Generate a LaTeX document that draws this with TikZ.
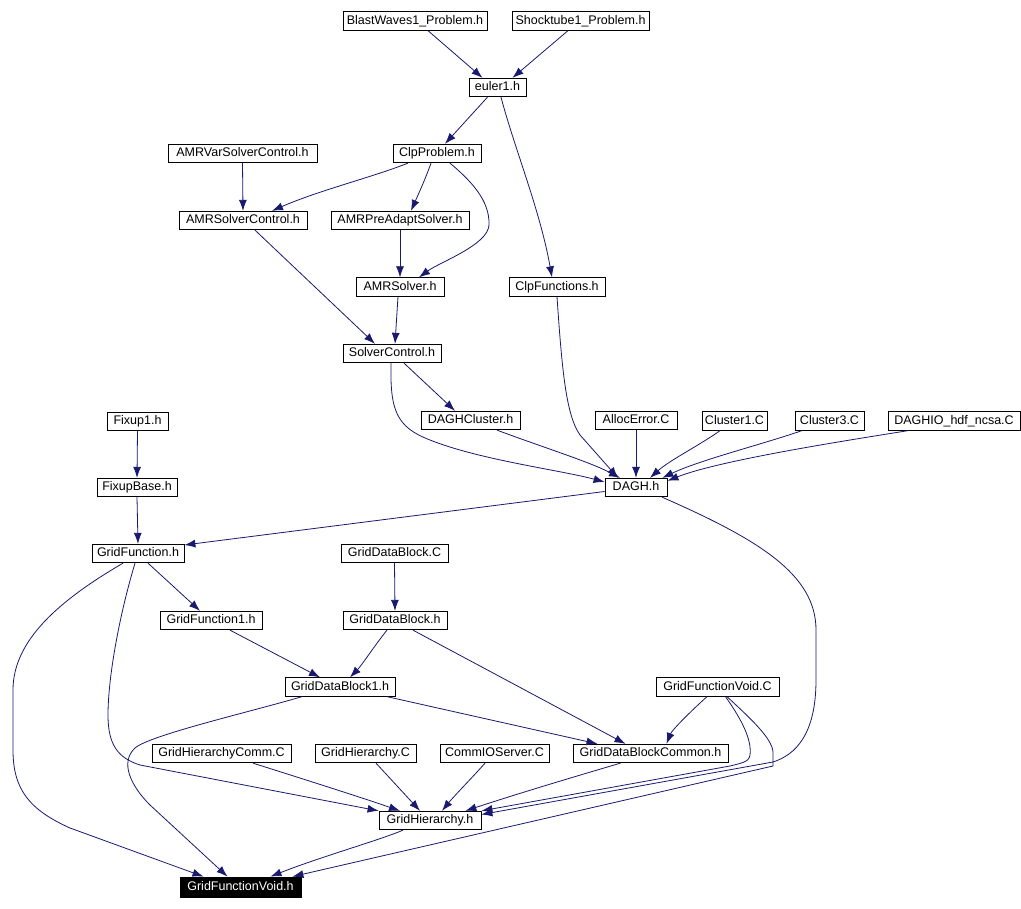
\documentclass[tikz,border=0pt]{standalone}
\usepackage{fontspec}
\setmainfont{Liberation Sans}
\usetikzlibrary{arrows.meta}
\definecolor{edgeblue}{RGB}{25,25,112}
\begin{document}
\begin{tikzpicture}[x=1pt,y=-1pt,
  box/.style={draw=black, line width=0.8pt, fill=white, inner sep=0pt,
    minimum height=18.5pt, text height=9pt, text depth=2.5pt,
    font=\fontsize{12.5}{14}\selectfont, anchor=center},
  hibox/.style={box, fill=black, text=white},
  edge/.style={draw=edgeblue, line width=0.8pt, -{Latex[length=11pt,width=8pt]}}]
\useasboundingbox[fill=white] (0,0) rectangle (1021,909);

% nodes
\node[box, minimum width=144] (blast) at (415,21) {BlastWaves1\_Problem.h};
\node[box, minimum width=137] (shock) at (580.5,21) {Shocktube1\_Problem.h};
\node[box, minimum width=57] (euler) at (497.5,87.5) {euler1.h};
\node[box, minimum width=149] (amrvar) at (242.5,153.5) {AMRVarSolverControl.h};
\node[box, minimum width=88] (clpprob) at (437,153.5) {ClpProblem.h};
\node[box, minimum width=128] (amrsc) at (243,220.5) {AMRSolverControl.h};
\node[box, minimum width=138] (amrpre) at (400,220.5) {AMRPreAdaptSolver.h};
\node[box, minimum width=88] (amrsolver) at (400,287) {AMRSolver.h};
\node[box, minimum width=96] (clpfun) at (557,287) {ClpFunctions.h};
\node[box, minimum width=98] (solver) at (392,353.5) {SolverControl.h};
\node[box, minimum width=99] (daghcl) at (470.5,420.5) {DAGHCluster.h};
\node[box, minimum width=82] (alloc) at (636,420.5) {AllocError.C};
\node[box, minimum width=65] (cl1) at (734.5,421) {Cluster1.C};
\node[box, minimum width=69] (cl3) at (829.5,421) {Cluster3.C};
\node[box, minimum width=132] (daghio) at (954,421) {DAGHIO\_hdf\_ncsa.C};
\node[box, minimum width=62] (dagh) at (636,487.5) {DAGH.h};
\node[box, minimum width=61] (fixup1) at (137.5,421.5) {Fixup1.h};
\node[box, minimum width=80] (fixupbase) at (137,487.5) {FixupBase.h};
\node[box, minimum width=92] (gridfn) at (138,553.5) {GridFunction.h};
\node[box, minimum width=107] (gdbc) at (394.5,553.5) {GridDataBlock.C};
\node[box, minimum width=102] (gridfn1) at (211,620.5) {GridFunction1.h};
\node[box, minimum width=104] (gdbh) at (395,620.5) {GridDataBlock.h};
\node[box, minimum width=110] (gdb1) at (340,687) {GridDataBlock1.h};
\node[box, minimum width=123] (gfvc) at (717.5,687) {GridFunctionVoid.C};
\node[box, minimum width=155] (gdbcommon) at (650.5,753.5) {GridDataBlockCommon.h};
\node[box, minimum width=139] (ghcomm) at (221.5,753.5) {GridHierarchyComm.C};
\node[box, minimum width=101] (ghc) at (365.5,753.5) {GridHierarchy.C};
\node[box, minimum width=109] (commio) at (494.5,753.5) {CommIOServer.C};
\node[box, minimum width=102] (gh) at (430,820.5) {GridHierarchy.h};
\node[hibox, minimum width=121, minimum height=20] (gfvh) at (240.5,887) {GridFunctionVoid.h};

% edges
\draw[edge] ([xshift=13]blast.south) -- ([xshift=-15]euler.north);
\draw[edge] ([xshift=-12.5]shock.south) -- ([xshift=15]euler.north);
\draw[edge] ([xshift=-10]euler.south) -- ([xshift=8]clpprob.north);
\draw[edge] ([xshift=3.5]euler.south) .. controls (515,150) and (540,210) .. ([xshift=-5]clpfun.north);
\draw[edge] (amrvar.south) -- (amrsc.north);
\draw[edge] ([xshift=-29]clpprob.south) .. controls (370,178) and (320,190) .. ([xshift=29]amrsc.north);
\draw[edge] ([xshift=-6]clpprob.south) .. controls (425,180) and (418,195) .. ([xshift=11]amrpre.north);
\draw[edge] ([xshift=13]clpprob.south) .. controls (470,180) and (490,200) .. (489,225)
  .. controls (488,245) and (440,262) .. ([xshift=19]amrsolver.north);
\draw[edge] (amrpre.south) -- (amrsolver.north);
\draw[edge] ([xshift=12]amrsc.south) -- ([xshift=-17]solver.north);
\draw[edge] ([xshift=-2]amrsolver.south) -- ([xshift=3]solver.north);
\draw[edge] ([xshift=12]solver.south) -- ([xshift=-15.5]daghcl.north);
\draw[edge] ([xshift=-1]solver.south) .. controls (390,410) and (396,427) .. (430,440)
  .. controls (480,460) and (560,470) .. ([yshift=5.5]dagh.west);
\draw[edge] ([xshift=26.5]daghcl.south) .. controls (545,448) and (590,462) .. ([xshift=-16]dagh.north);
\draw[edge] (clpfun.south) .. controls (562,370) and (566,415) .. (580,435) -- ([xshift=-18]dagh.north);
\draw[edge] (alloc.south) -- (dagh.north);
\draw[edge] ([xshift=-14.5]cl1.south) .. controls (700,445) and (670,460) .. ([xshift=14]dagh.north);
\draw[edge] ([xshift=-27.5]cl3.south) .. controls (760,445) and (700,460) .. ([xshift=-5]dagh.north east);
\draw[edge] ([xshift=-46]daghio.south) .. controls (850,440) and (720,460) .. ([yshift=-3]dagh.north east);
\draw[edge] (fixup1.south) -- (fixupbase.north);
\draw[edge] (fixupbase.south) -- (gridfn.north);
\draw[edge] ([yshift=-4]dagh.west) -- ([yshift=8.5]gridfn.east);
\draw[edge] ([xshift=26]dagh.south) .. controls (760,540) and (816,575) .. (816,630) -- (816,680)
  .. controls (816,735) and (795,755) .. (773,762) -- ([yshift=6]gh.east);
\draw[edge] ([xshift=-10.5]gfvc.south) .. controls (690,712) and (672,730) .. ([xshift=16]gdbcommon.north);
\draw[edge] ([xshift=8]gfvc.south) .. controls (742,720) and (752,740) .. (750,755)
  .. controls (749,762) and (742,763) .. (730,766) -- (gh.north east);
\draw[edge] ([xshift=9.5]gfvc.south) .. controls (750,718) and (772,738) .. (773,752) -- (773,766)
  -- ([xshift=-9]gfvh.north east);
\draw[edge] ([xshift=-30]gdbcommon.south) .. controls (570,778) and (520,793) .. ([xshift=-16]gh.north east);
\draw[edge] ([xshift=-9.5]commio.south) .. controls (470,780) and (455,795) .. ([xshift=12]gh.north);
\draw[edge] ([xshift=10.5]ghc.south) -- ([xshift=-10]gh.north);
\draw[edge] ([xshift=31.5]ghcomm.south) .. controls (300,778) and (360,797) .. ([xshift=-30]gh.north);
\draw[edge] ([xshift=-3]gridfn.south) .. controls (118,620) and (108,680) .. (108,715)
  .. controls (108,745) and (118,758) .. (140,765) -- (gh.north west);
\draw[edge] ([xshift=-15]gridfn.south) .. controls (60,600) and (13,640) .. (13,690) -- (13,750)
  .. controls (13,790) and (30,810) .. (70,828) -- ([xshift=-37]gfvh.north);
\draw[edge] ([xshift=-38]gdb1.south) .. controls (250,712) and (150,735) .. (135,748)
  .. controls (120,762) and (130,785) .. (150,805) -- ([xshift=-13]gfvh.north);
\draw[edge] ([xshift=-27]gh.south) .. controls (380,840) and (320,857) .. ([xshift=30]gfvh.north);
\draw[edge] ([xshift=10]gridfn.south) -- ([xshift=-11]gridfn1.north);
\draw[edge] ([xshift=19]gridfn1.south) -- ([xshift=-20]gdb1.north);
\draw[edge] (gdbc.south) -- (gdbh.north);
\draw[edge] ([xshift=-8]gdbh.south) .. controls (375,645) and (362,665) .. ([xshift=10]gdb1.north);
\draw[edge] ([xshift=18]gdbh.south) -- ([xshift=-25]gdbcommon.north);
\draw[edge] ([xshift=47]gdb1.south) -- ([xshift=-53]gdbcommon.north);
\end{tikzpicture}
\end{document}
